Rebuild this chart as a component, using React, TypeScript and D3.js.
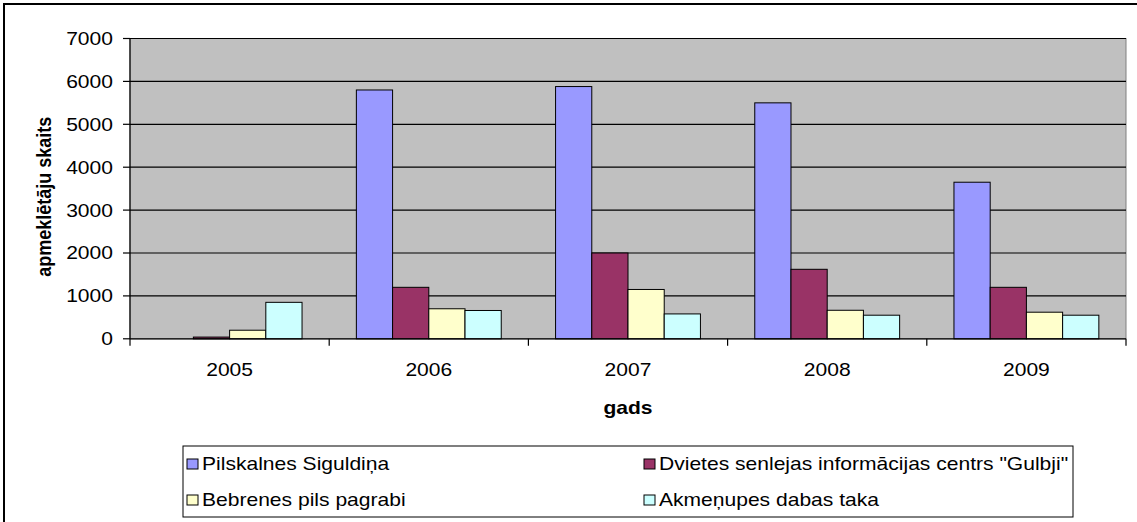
import React from 'react';
import * as d3 from 'd3';

const years = ['2005', '2006', '2007', '2008', '2009'];
const seriesNames = [
  'Pilskalnes Siguldiņa',
  'Dvietes senlejas informācijas centrs "Gulbji"',
  'Bebrenes pils pagrabi',
  'Akmeņupes dabas taka',
];
const pilskalnes = [0, 5800, 5880, 5500, 3650];
const dvietes = [40, 1200, 2000, 1620, 1200];
const bebrenes = [200, 700, 1150, 665, 620];
const akmenupes = [850, 660, 580, 550, 550];
const yTicks = [0, 1000, 2000, 3000, 4000, 5000, 6000, 7000];
const colors = ['#9999FF', '#993366', '#FFFFCC', '#CCFFFF'];

const W = 1137;
const H = 522;
const plot = { left: 130, top: 38.5, right: 1126, bottom: 338.8 };
const font = '"Liberation Sans", Arial, sans-serif';
const stretch = 1.17; // the source text is a bit wide

// text drawn a little wider than the font, like in the original picture
function Txt({ x, y, anchor = 'start', bold = false, children }: any) {
  return (
    <text transform={`translate(${x},${y}) scale(${stretch},1)`} textAnchor={anchor}
      fontFamily={font} fontSize={18} fontWeight={bold ? 'bold' : 'normal'} dy="0.36em">
      {children}
    </text>
  );
}

function App() {
  const series = [pilskalnes, dvietes, bebrenes, akmenupes];

  const x0 = d3.scaleBand().domain(years).range([plot.left, plot.right]);
  const step = x0.bandwidth();
  const barW = step / 5.5;
  const x1 = d3.scaleBand()
    .domain(seriesNames)
    .range([barW * 0.75, step - barW * 0.75]);
  const y = d3.scaleLinear().domain([0, 7000]).range([plot.bottom, plot.top]);

  const boundaries = years.map(yr => x0(yr)).concat([plot.right]);

  return (
    <svg width={W} height={H} style={{ position: 'absolute', left: 0, top: 0, background: '#fff' }}>
      {/* outer frame */}
      <rect x={4} y={4} width={W + 10} height={H + 10} fill="#fff" stroke="#000" strokeWidth={2} />

      {/* plot area */}
      <rect x={plot.left} y={plot.top} width={plot.right - plot.left} height={plot.bottom - plot.top}
        fill="#C0C0C0" stroke="#808080" strokeWidth={1} />

      {yTicks.slice(1).map(t => (
        <line key={t} x1={plot.left} x2={plot.right} y1={y(t)} y2={y(t)} stroke="#000" strokeWidth={1.2} />
      ))}

      {/* bars */}
      {series.map((vals, si) => (
        <g key={si}>
          {years.map((yr, i) => vals[i] > 0 && (
            <rect key={yr}
              x={(x0(yr) as number) + (x1(seriesNames[si]) as number)}
              y={y(vals[i])}
              width={x1.bandwidth()}
              height={y(0) - y(vals[i])}
              fill={colors[si]} stroke="#000" strokeWidth={1} />
          ))}
        </g>
      ))}

      {/* axes */}
      <line x1={plot.left} x2={plot.left} y1={plot.top} y2={plot.bottom} stroke="#000" strokeWidth={1.2} />
      <line x1={plot.left} x2={plot.right} y1={plot.bottom} y2={plot.bottom} stroke="#000" strokeWidth={1.2} />
      {yTicks.map(t => (
        <g key={t}>
          <line x1={plot.left - 7} x2={plot.left} y1={y(t)} y2={y(t)} stroke="#000" strokeWidth={1.2} />
          <Txt x={113} y={y(t)} anchor="end">{t}</Txt>
        </g>
      ))}
      {boundaries.map((b, i) => (
        <line key={i} x1={b} x2={b} y1={plot.bottom} y2={plot.bottom + 7} stroke="#000" strokeWidth={1.2} />
      ))}
      {years.map(yr => (
        <Txt key={yr} x={(x0(yr) as number) + step / 2} y={370} anchor="middle">{yr}</Txt>
      ))}

      <Txt x={(plot.left + plot.right) / 2} y={408} anchor="middle" bold>gads</Txt>
      <text transform={`translate(51,${(plot.top + plot.bottom) / 2 + 8}) rotate(-90) scale(1,${stretch})`} textAnchor="middle"
        fontFamily={font} fontSize={18} fontWeight="bold">apmeklētāju skaits</text>

      {/* legend */}
      <rect x={183} y={446} width={890} height={71} fill="#fff" stroke="#000" strokeWidth={1} />
      {seriesNames.map((name, i) => {
        const lx = i % 2 === 0 ? 187 : 644;
        const ly = i < 2 ? 464 : 500;
        return (
          <g key={name}>
            <rect x={lx} y={ly - 5} width={11} height={10} fill={colors[i]} stroke="#000" strokeWidth={1} />
            <Txt x={lx + 15} y={ly}>{name}</Txt>
          </g>
        );
      })}
    </svg>
  );
}

export default App;
